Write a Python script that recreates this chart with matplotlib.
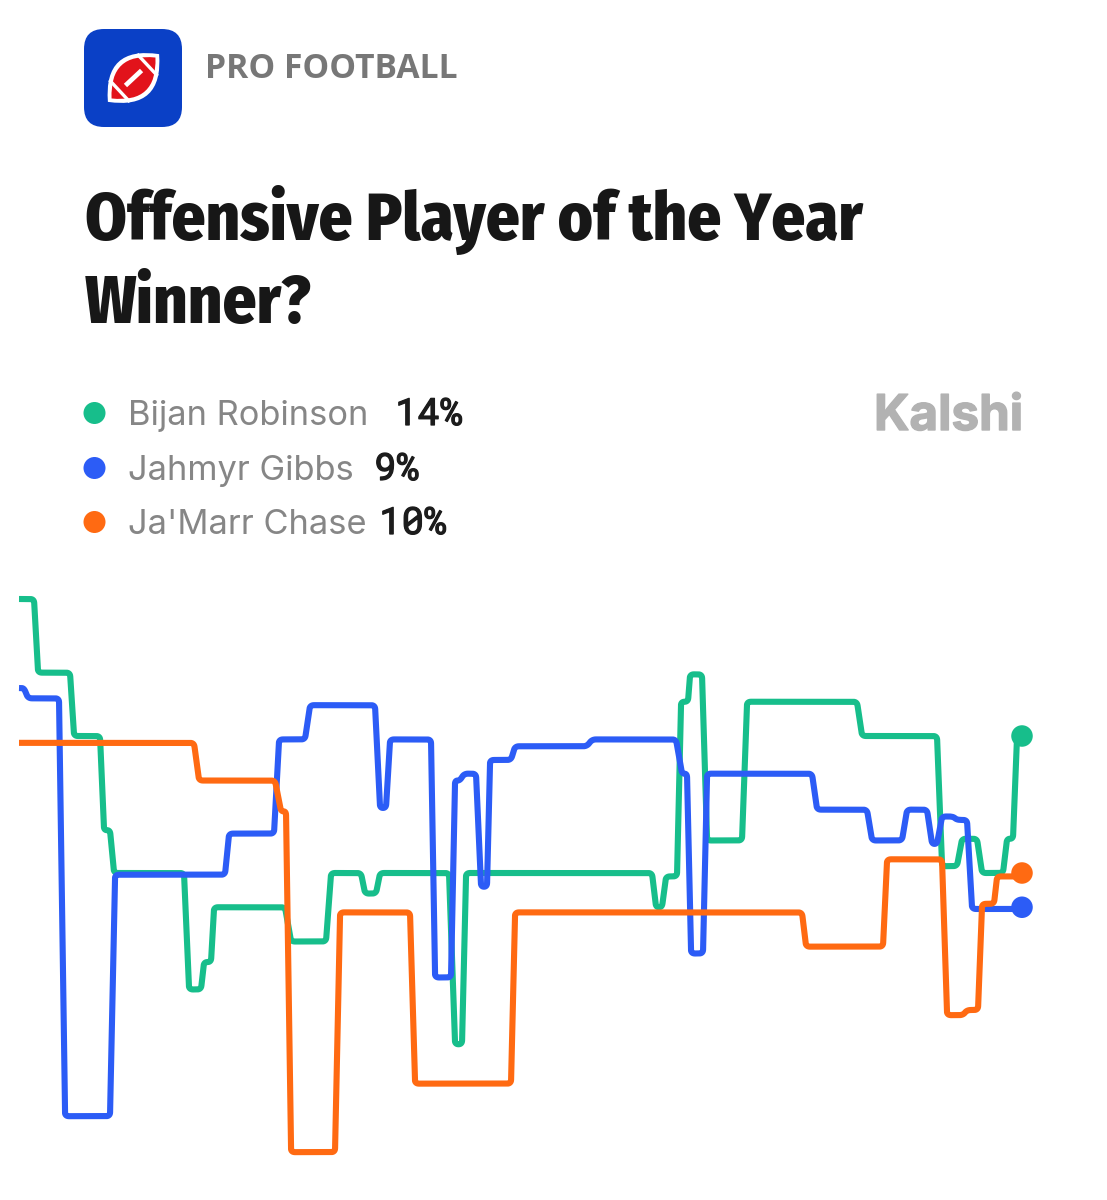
import matplotlib
matplotlib.use("Agg")
import matplotlib.pyplot as plt
import numpy as np
from matplotlib.patches import FancyBboxPatch, PathPatch, Circle
from matplotlib.path import Path
from matplotlib.transforms import Affine2D
import matplotlib.patheffects as pe

# ---- data -------------------------------------------------------------
category = "PRO FOOTBALL"
title_lines = ["Offensive Player of the Year", "Winner?"]
brand = "Kalshi"
names = ["Bijan Robinson", "Jahmyr Gibbs", "Ja'Marr Chase"]
latest = ["14%", "9%", "10%"]

bijan_t = [19, 34, 38, 70, 74, 100, 104, 110, 114, 184, 189, 201, 204, 211, 214, 285, 291, 326, 331, 361, 365,
           376, 380, 449, 455, 462, 466, 652, 656, 662, 666, 677, 681, 688, 690, 702, 707, 742, 747, 857, 862,
           937, 942, 957, 962, 977, 982, 1003, 1007, 1013, 1017, 1022]
bijan_v = [18.0, 18.0, 15.85, 15.85, 14.0, 14.0, 11.25, 11.25, 10.0, 10.0, 6.6, 6.6, 7.4, 7.4, 9.0, 9.0, 8.0, 8.0,
           10.0, 10.0, 9.4, 9.4, 10.0, 10.0, 5.0, 5.0, 10.0, 10.0, 9.0, 9.0, 9.9, 9.9, 15.0, 15.0, 15.8, 15.8,
           10.95, 10.95, 15.0, 15.0, 14.0, 14.0, 10.2, 10.2, 11.0, 11.0, 10.0, 10.0, 11.0, 11.0, 14.0, 14.0]

gibbs_t = [19, 24, 28, 59, 65, 110, 115, 225, 229, 274, 279, 305, 310, 375, 380, 386, 390, 431, 435, 451, 455,
           460, 464, 476, 481, 487, 490, 511, 515, 587, 592, 676, 682, 687, 691, 703, 707, 812, 817, 867, 872,
           902, 907, 927, 932, 937, 942, 953, 957, 967, 972, 1022]
gibbs_v = [15.4, 15.4, 15.1, 15.1, 2.9, 2.9, 9.95, 9.95, 11.15, 11.15, 13.9, 13.9, 14.9, 14.9, 11.9, 11.9, 13.9,
           13.9, 6.95, 6.95, 12.7, 12.7, 12.9, 12.9, 9.6, 9.6, 13.3, 13.3, 13.7, 13.7, 13.9, 13.9, 12.9, 12.9,
           7.65, 7.65, 12.9, 12.9, 11.85, 11.85, 10.95, 10.95, 11.85, 11.85, 10.85, 10.85, 11.65, 11.65, 11.55,
           11.55, 8.95, 8.95]

chase_t = [19, 194, 199, 275, 281, 286, 291, 335, 340, 410, 415, 511, 515, 802, 806, 883, 887, 942, 947, 963,
           967, 978, 982, 994, 997, 1022]
chase_v = [13.8, 13.8, 12.7, 12.7, 11.8, 11.8, 1.85, 1.85, 8.85, 8.85, 3.85, 3.85, 8.85, 8.85, 7.85, 7.85, 10.4,
           10.4, 5.85, 5.85, 6.0, 6.0, 9.1, 9.1, 9.9, 9.9]
end_v = [14.0, 9.0, 10.0]

# ---- style ------------------------------------------------------------
GREEN, BLUE, ORANGE = "#17BE8B", "#2C5CF6", "#FF6A12"
colors = [GREEN, BLUE, ORANGE]
W, H = 1107, 1200
PX_PER_PCT = 34.25
fig = plt.figure(figsize=(W / 100, H / 100), dpi=100, facecolor="white")


def rounded(t, v, r=5.0, n=7):
    """Round the corners of a step line, in pixel-like space, as the chart's curve does."""
    p = np.column_stack([t, np.array(v) * PX_PER_PCT])
    out = [p[0]]
    for i in range(1, len(p) - 1):
        a, b, c = p[i - 1], p[i], p[i + 1]
        la, lc = np.linalg.norm(a - b), np.linalg.norm(c - b)
        ra, rc = min(r, la / 2), min(r, lc / 2)
        s = b + (a - b) / la * ra
        e = b + (c - b) / lc * rc
        for u in np.linspace(0, 1, n):
            out.append((1 - u) ** 2 * s + 2 * u * (1 - u) * b + u ** 2 * e)
    out.append(p[-1])
    out = np.array(out)
    return out[:, 0], out[:, 1] / PX_PER_PCT


# chart axes: percent values, placed so 14% sits at y=736 px
top_px, bot_px = 570, 1180
ax = fig.add_axes([0, 1 - bot_px / H, 1, (bot_px - top_px) / H])
ax.set_xlim(0, W)
ax.set_ylim(14 - (bot_px - 736) / PX_PER_PCT, 14 + (736 - top_px) / PX_PER_PCT)
ax.axis("off")
for t, v, c, z in [(bijan_t, bijan_v, GREEN, 2), (gibbs_t, gibbs_v, BLUE, 3), (chase_t, chase_v, ORANGE, 4)]:
    xs, ys = rounded(t, v, r=4.0)
    ax.plot(xs, ys, color=c, lw=4.4, solid_joinstyle="round", solid_capstyle="butt", zorder=z)
ax.scatter([1022] * 3, end_v, s=15.5 ** 2, c=colors, zorder=5, linewidths=0)

# overlay in pixel coordinates for the header
ov = fig.add_axes([0, 0, 1, 1])
ov.set_xlim(0, W)
ov.set_ylim(H, 0)
ov.axis("off")
ov.patch.set_alpha(0)

# icon
ov.add_patch(FancyBboxPatch((84 + 20, 29 + 20), 98 - 40, 98 - 40, boxstyle="round,pad=20,rounding_size=20",
                            fc="#0A40C6", ec="none"))


def lens(half, bulge):
    return Path([(-half, 0), (0, -bulge), (half, 0), (0, bulge), (-half, 0)],
                [Path.MOVETO, Path.CURVE3, Path.CURVE3, Path.CURVE3, Path.CURVE3])


rot = Affine2D().rotate_deg(-43).translate(133.5, 78) + ov.transData
ov.add_patch(PathPatch(lens(35, 44), fc="white", ec="none", transform=rot))
ov.add_patch(PathPatch(lens(30, 35), fc="#E2131B", ec="none", transform=rot))
for x0, y0, x1, y1, w in [(-11, 0, 11, 0, 3.4), (-19, -15, -19, 15, 2.4), (19, -15, 19, 15, 2.4)]:
    ov.plot([x0, x1], [y0, y1], color="white", lw=w, transform=rot, solid_capstyle="butt")


def fit_size(artist, target):
    """Scale an artist's font size so its rendered width equals target pixels."""
    w = artist.get_window_extent(fig.canvas.get_renderer()).width
    artist.set_fontsize(artist.get_fontsize() * target / w)


ov.text(205, 78, category, fontfamily=["Open Sans", "DejaVu Sans"], fontweight="bold", fontsize=24.2,
        color="#777777", va="baseline")

# title
title_family = ["Fira Sans Condensed", "Asap Condensed", "Liberation Sans"]
t1 = ov.text(85, 240, title_lines[0], fontfamily=title_family, fontweight="heavy", fontsize=58, color="#171717",
             va="baseline")
fit_size(t1, 778)
ov.text(85, 323, title_lines[1], fontfamily=title_family, fontweight="heavy", fontsize=t1.get_fontsize(),
        color="#171717", va="baseline")

# legend
name_x = 128
pct_x = [395, 374, 379]
base = [425, 480, 534]
dot_y = [413, 468, 522]
for n, p, c, px, b, dy in zip(names, latest, colors, pct_x, base, dot_y):
    ov.add_patch(Circle((94.5, dy), 11, fc=c, ec="none"))
    ov.text(name_x, b, n, fontfamily="Inter", fontsize=24.8, color="#868686", va="baseline")
    ov.text(px, b, p, fontfamily=["Roboto Mono", "Liberation Mono"], fontsize=27, fontweight="bold",
            color="#1c1c1c", va="baseline",
            path_effects=[pe.withStroke(linewidth=0.9, foreground="#1c1c1c")])

ov.text(874, 430, brand, fontfamily="Inter", fontweight="bold", fontsize=35.5, color="#B2B2B2", va="baseline",
        path_effects=[pe.withStroke(linewidth=1.0, foreground="#B2B2B2")])

fig.savefig("out.png", dpi=100, facecolor="white")
